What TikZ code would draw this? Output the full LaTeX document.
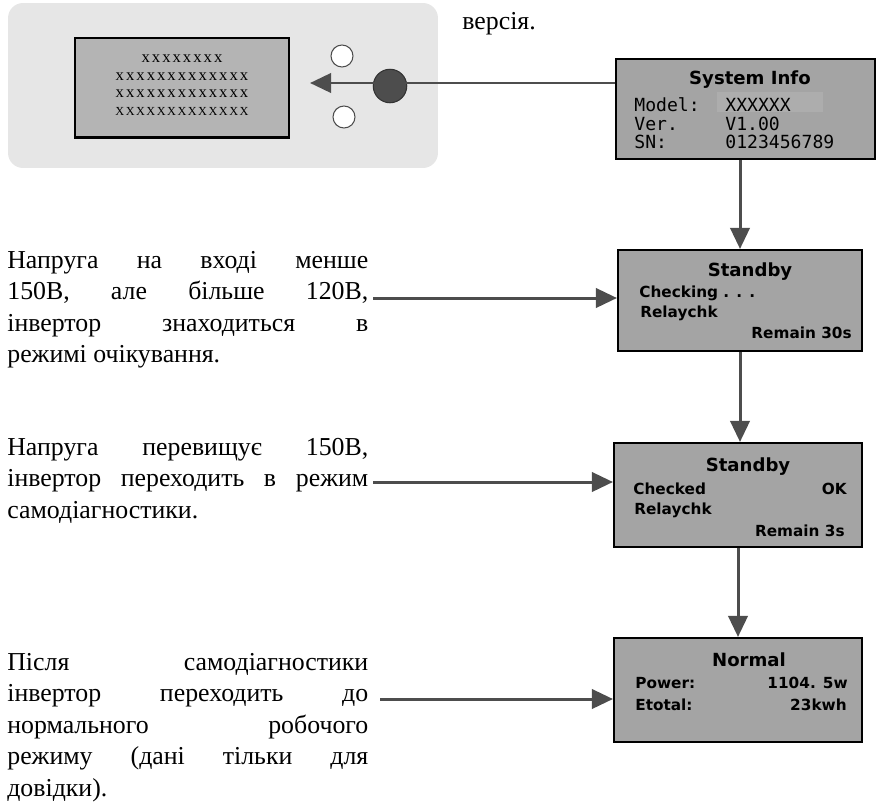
\documentclass[tikz,border=0pt]{standalone}
\usepackage{fontspec}
\setmainfont{Liberation Serif}
\newfontfamily\screenfont{DejaVu Sans}
\newfontfamily\screenmono{DejaVu Sans Mono}
\newfontfamily\lcdxfont{Liberation Serif}[LetterSpace=12]
\usetikzlibrary{arrows.meta}
\definecolor{panelgray}{HTML}{E6E6E6}
\definecolor{lcdgray}{HTML}{B4B4B4}
\definecolor{screengray}{HTML}{A4A4A4}
\definecolor{hilite}{HTML}{ADADAD}
\definecolor{arrowgray}{HTML}{4D4D4D}

\begin{document}
\begin{tikzpicture}[x=0.02cm, y=-0.02cm,
    screen/.style={rectangle, draw=black, line width=1.2pt, fill=screengray, inner sep=0pt},
    scrtitle/.style={font=\screenfont\bfseries\fontsize{10.3}{12}\selectfont, inner sep=0pt},
    scrrow/.style={font=\screenfont\bfseries\fontsize{8.7}{10}\selectfont, inner sep=0pt},
    scrmono/.style={font=\screenmono\fontsize{10.3}{12}\selectfont, inner sep=0pt, anchor=west},
    sidenote/.style={text width=7.22cm, align=justify, inner sep=0pt, anchor=base west, font=\fontsize{14.7}{18}\selectfont,
        execute at begin node={\tolerance=10000\relax\hyphenpenalty=10000\relax}},
    flow/.style={-{Triangle[length=12pt,width=11pt]}, line width=1.7pt, draw=arrowgray},
    button/.style={circle, draw=black!70, line width=0.6pt, fill=white, minimum size=0.44cm, inner sep=0pt}
]
    \useasboundingbox (0,0) rectangle (878,805);

    % Device panel: display and buttons
    \node[fill=panelgray, rounded corners=0.3cm, minimum width=8.6cm, minimum height=3.3cm] (panel) at (223,85.5) {};
    \node[fill=lcdgray, draw=black, line width=0.8pt, minimum width=4.28cm, minimum height=1.98cm] (lcd) at (182,87.5) {};
    \draw[line width=1.6pt] (lcd.south west) -- (lcd.south east);
    \node[font=\lcdxfont\fontsize{9.5}{10}\selectfont, align=center, inner sep=0pt] (lcdtext) at (182,85) {xxxxxxxx\\xxxxxxxxxxxxx\\xxxxxxxxxxxxx\\{\fontsize{7}{10}\selectfont XXXXXXXXXXXXX}};
    \node[button] (btnup) at (342,56) {};
    \node[button] (btndown) at (344,117) {};
    \node[circle, fill=arrowgray, draw=black!80, line width=0.6pt, minimum size=0.67cm, inner sep=0pt] (knob) at (390,86) {};

    \node[anchor=base west, inner sep=0pt, font=\fontsize{14.7}{18}\selectfont] (topnote) at (462,29) {версія.};

    % Screens on the right
    \node[screen, minimum width=5.18cm, minimum height=2cm] (sysinfo) at (745.5,109) {};
    \node[fill=hilite, minimum width=2.12cm, minimum height=0.4cm, inner sep=0pt] (modelbg) at (770,102) {};
    \node[scrtitle] (sysinfoT) at (750,80) {System Info};
    \node[scrmono] (modelL) at (634,105) {Model:};
    \node[scrmono] (modelV) at (725,105) {XXXXXX};
    \node[scrmono] (verL) at (634,124) {Ver.};
    \node[scrmono] (verV) at (725,124) {V1.00};
    \node[scrmono] (snL) at (634,142) {SN:};
    \node[scrmono] (snV) at (725,142) {0123456789};

    \node[screen, minimum width=4.88cm, minimum height=2.02cm] (standbyA) at (740,300.5) {};
    \node[scrtitle] (standbyAT) at (750,272) {Standby};
    \node[scrrow, anchor=west] (checkA) at (639,293) {Checking . . .};
    \node[scrrow, anchor=west] (relayA) at (640,313) {Relaychk};
    \node[scrrow, anchor=east] (remainA) at (852,333) {Remain 30s};

    \node[screen, minimum width=4.96cm, minimum height=2.08cm] (standbyB) at (738,495) {};
    \node[scrtitle] (standbyBT) at (748,467) {Standby};
    \node[scrrow, anchor=west] (checkB) at (633,489) {Checked};
    \node[scrrow, anchor=east] (okB) at (847,489) {OK};
    \node[scrrow, anchor=west] (relayB) at (634,510) {Relaychk};
    \node[scrrow, anchor=east] (remainB) at (845,531) {Remain 3s};

    \node[screen, minimum width=4.96cm, minimum height=2.08cm] (normal) at (738,690) {};
    \node[scrtitle] (normalT) at (749,660) {Normal};
    \node[scrrow, anchor=west] (powerL) at (635,683) {Power:};
    \node[scrrow, anchor=east] (powerV) at (848,683) {1104. 5w};
    \node[scrrow, anchor=west] (etotalL) at (635,705) {Etotal:};
    \node[scrrow, anchor=east] (etotalV) at (847,705) {23kwh};

    % Arrows between screens
    \coordinate (lcdtip) at (310,83);
    \draw[flow] (sysinfo.west |- lcdtip) -- (lcdtip);
    \draw[flow] (standbyA.north |- sysinfo.south) -- (standbyA.north);
    \draw[flow] (standbyA.south) -- (standbyA.south |- standbyB.north);
    \draw[flow] (standbyB.south) -- (normal.north);

    % Notes on the left
    \node[sidenote] (noteA) at (7,268) {Напруга на вході менше\linebreak 150В, але більше 120В,\linebreak інвертор знаходиться в\linebreak режимі очікування.};
    \node[sidenote] (noteB) at (7,455) {Напруга перевищує 150В,\linebreak інвертор переходить в режим\linebreak самодіагностики.};
    \node[sidenote] (noteC) at (7,670) {Після самодіагностики\linebreak інвертор переходить до\linebreak нормального робочого\linebreak режиму (дані тільки для\linebreak довідки).};

    \coordinate (fromA) at (373,298);
    \draw[flow] (fromA) -- (fromA -| standbyA.west);
    \coordinate (fromB) at (373,482);
    \draw[flow] (fromB) -- (fromB -| standbyB.west);
    \coordinate (fromC) at (380,699);
    \draw[flow] (fromC) -- (fromC -| normal.west);
\end{tikzpicture}
\end{document}
